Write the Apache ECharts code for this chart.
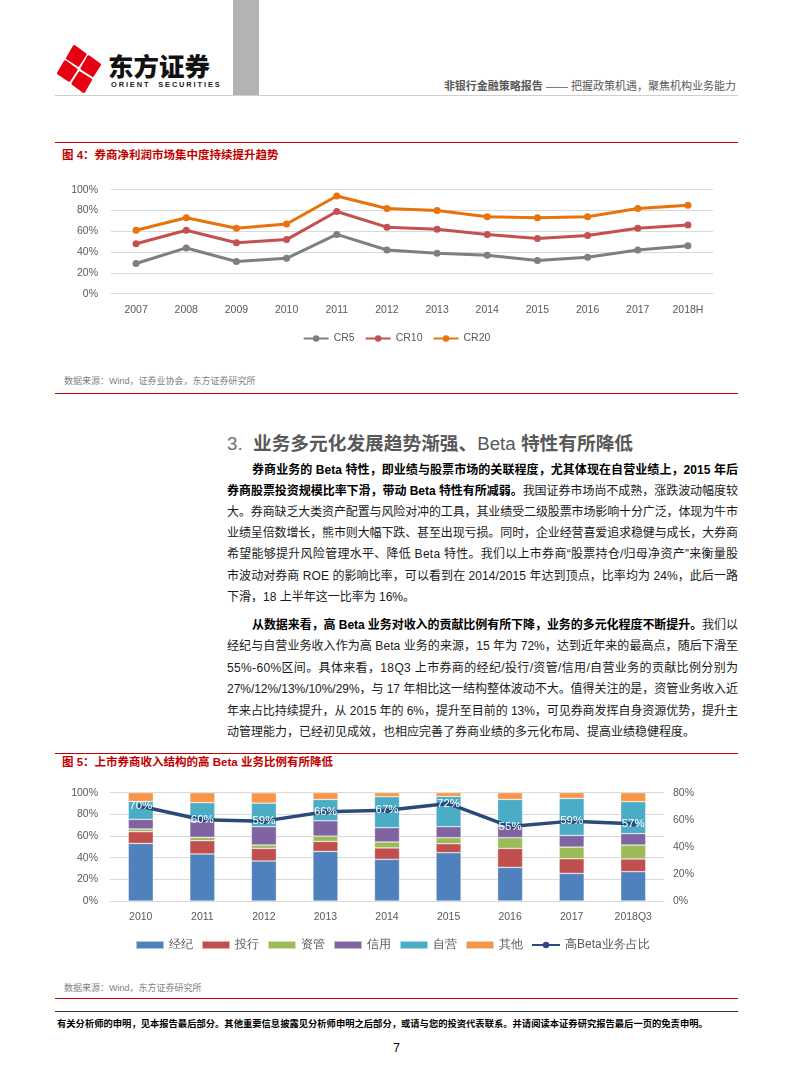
<!DOCTYPE html>
<html><head><meta charset="utf-8">
<script src="https://cdn.jsdelivr.net/npm/echarts@6/dist/echarts.min.js"></script>
<style>
html,body{margin:0;padding:0;background:#fff;}
body{width:793px;height:1077px;position:relative;overflow:hidden;font-family:"Liberation Sans","Noto Sans CJK SC",sans-serif;}
.abs{position:absolute;}
.hl{position:absolute;left:55px;width:683px;height:0;}
.ln{position:absolute;left:227px;width:511px;height:21px;line-height:21px;font-size:12px;white-space:nowrap;color:#1a1a1a;}
.ln b{color:#000;font-weight:bold;}
.ind{padding-left:25px;width:486px;}
.ttl{position:absolute;left:62px;font-size:11.5px;font-weight:bold;color:#C00000;white-space:nowrap;line-height:14px;}
.src{position:absolute;left:64px;font-size:9px;color:#7F7F7F;white-space:nowrap;line-height:12px;}
</style></head>
<body>
<!-- header -->
<svg class="abs" style="left:52px;top:42px" width="56" height="54" viewBox="0 0 56 54">
  <g fill="#E60012" stroke="#E60012" stroke-width="3" stroke-linejoin="round">
    <polygon points="27,4 36,14 27,23 18,14" transform="rotate(-12 27 27)"/>
    <polygon points="39,17 48,27 39,36 30,27" transform="rotate(-12 27 27)"/>
    <polygon points="27,31 36,40 27,50 18,40" transform="rotate(-12 27 27)"/>
    <polygon points="15,17 24,27 15,36 6,27" transform="rotate(-12 27 27)"/>
  </g>
</svg>
<div class="abs" style="left:108px;top:49px;font-size:25.5px;font-weight:900;color:#111;font-family:'Noto Sans CJK SC';line-height:32px;letter-spacing:0px;">东方证券</div>
<div class="abs" style="left:111px;top:80px;font-size:7.4px;font-weight:bold;color:#222;letter-spacing:1.9px;line-height:10px;white-space:nowrap;">ORIENT&nbsp;&nbsp;SECURITIES</div>
<div class="abs" style="left:233px;top:0;width:26px;height:95px;background:#B3B3B3;"></div>
<div class="abs" style="right:57px;top:79px;font-size:11px;color:#595959;white-space:nowrap;line-height:15px;"><b>非银行金融策略报告</b> —— 把握政策机遇，聚焦机构业务能力</div>
<div class="hl" style="top:95px;border-top:1px solid #CFCFCF;"></div>

<!-- chart 1 -->
<div class="hl" style="top:142px;border-top:1px solid #C00000;"></div>
<div class="ttl" style="top:148px;">图 4：券商净利润市场集中度持续提升趋势</div>
<div id="c1" class="abs" style="left:0;top:100px;width:793px;height:260px;"></div>
<div class="src" style="top:375px;">数据来源：Wind，证券业协会，东方证券研究所</div>
<div class="hl" style="top:393px;border-top:1px solid #C00000;"></div>

<!-- section text -->
<div class="abs" style="left:227px;top:430px;font-size:18.7px;line-height:28px;color:#595959;white-space:nowrap;font-weight:bold;"><span style="font-weight:normal;color:#6f6f6f">3.</span>&nbsp;&nbsp;业务多元化发展趋势渐强、<span style="font-weight:normal">Beta</span> 特性有所降低</div>

<div class="ln ind j" style="top:459.5px"><span><b>券商业务的 Beta 特性，即业绩与股票市场的关联程度，尤其体现在自营业绩上，2015 年后</b></span></div>
<div class="ln j" style="top:480.7px"><span><b>券商股票投资规模比率下滑，带动 Beta 特性有所减弱。</b>我国证券市场尚不成熟，涨跌波动幅度较</span></div>
<div class="ln j" style="top:501.9px"><span>大。券商缺乏大类资产配置与风险对冲的工具，其业绩受二级股票市场影响十分广泛，体现为牛市</span></div>
<div class="ln j" style="top:523.1px"><span>业绩呈倍数增长，熊市则大幅下跌、甚至出现亏损。同时，企业经营喜爱追求稳健与成长，大券商</span></div>
<div class="ln j" style="top:544.3px"><span>希望能够提升风险管理水平、降低 Beta 特性。我们以上市券商“股票持仓/归母净资产”来衡量股</span></div>
<div class="ln j" style="top:565.5px"><span>市波动对券商 ROE 的影响比率，可以看到在 2014/2015 年达到顶点，比率均为 24%，此后一路</span></div>
<div class="ln" style="top:586.7px"><span>下滑，18 上半年这一比率为 16%。</span></div>

<div class="ln ind j" style="top:614.5px"><span><b>从数据来看，高 Beta 业务对收入的贡献比例有所下降，业务的多元化程度不断提升。</b>我们以</span></div>
<div class="ln j" style="top:636px"><span>经纪与自营业务收入作为高 Beta 业务的来源，15 年为 72%，达到近年来的最高点，随后下滑至</span></div>
<div class="ln j" style="top:657.5px"><span>55%-60%区间。具体来看，18Q3 上市券商的经纪/投行/资管/信用/自营业务的贡献比例分别为</span></div>
<div class="ln j" style="top:679px"><span>27%/12%/13%/10%/29%，与 17 年相比这一结构整体波动不大。值得关注的是，资管业务收入近</span></div>
<div class="ln j" style="top:700.5px"><span>年来占比持续提升，从 2015 年的 6%，提升至目前的 13%，可见券商发挥自身资源优势，提升主</span></div>
<div class="ln" style="top:722px"><span>动管理能力，已经初见成效，也相应完善了券商业绩的多元化布局、提高业绩稳健程度。</span></div>

<!-- chart 2 -->
<div class="hl" style="top:753px;border-top:1px solid #C00000;"></div>
<div class="ttl" style="top:755px;">图 5：上市券商收入结构的高 Beta 业务比例有所降低</div>
<div id="c2" class="abs" style="left:0;top:770px;width:793px;height:195px;"></div>
<div class="src" style="top:982px;">数据来源：Wind，东方证券研究所</div>
<div class="hl" style="top:998px;border-top:1px solid #C00000;"></div>
<div class="hl" style="top:1011px;border-top:1.5px solid #333;"></div>
<div class="abs" style="left:57px;top:1018px;font-size:9.3px;font-weight:bold;color:#000;white-space:nowrap;line-height:13px;">有关分析师的申明，见本报告最后部分。其他重要信息披露见分析师申明之后部分，或请与您的投资代表联系。并请阅读本证券研究报告最后一页的免责申明。</div>
<div class="abs" style="left:0;width:793px;text-align:center;top:1040px;font-size:12px;color:#000;line-height:16px;">7</div>

<script>
// ---- data: chart 1 ----
const years1 = ['2007','2008','2009','2010','2011','2012','2013','2014','2015','2016','2017','2018H'];
const cr5  = [29,44,31,34,57,42,39,37,32,35,42,46];
const cr10 = [48,61,49,52,79,64,62,57,53,56,63,66];
const cr20 = [61,73,63,67,94,82,80,74,73,74,82,85];
// ---- data: chart 2 ----
const years2 = ['2010','2011','2012','2013','2014','2015','2016','2017','2018Q3'];
const jingji  = [53.2,43.4,36.9,45.8,38.5,44.6,31.1,25.5,27.1];
const touhang = [10.8,12.3,11.7,9.2,10.5,8.3,17.5,13.5,11.7];
const ziguan  = [2.5,3.1,3.1,4.9,5.5,5.5,9.8,10.8,12.9];
const xinyong = [8.9,14.5,16.9,14.2,13.2,10.2,10.2,10.8,10.5];
const ziying  = [16.6,17.5,21.8,19.7,28.6,28.0,25.2,34.2,29.5];
const qita    = [8.0,9.2,9.5,6.2,3.7,3.4,6.2,5.2,8.3];
const highBeta = [70,60,59,66,67,72,55,59,57];

// justify lines
document.querySelectorAll('.ln.j').forEach(el=>{
  const span = el.firstElementChild;
  const target = el.classList.contains('ind') ? 486 : 511;
  const w = span.getBoundingClientRect().width;
  const n = span.textContent.length;
  el.style.letterSpacing = ((target - w)/(n-1)) + 'px';
});

const axisFont = {color:'#595959', fontSize:10.5, fontFamily:'Liberation Sans Narrow, Liberation Sans, sans-serif'};

const c1 = echarts.init(document.getElementById('c1'));
function lineS(name, data, color){
  return {name, type:'line', data, symbol:'circle', symbolSize:7, color,
    lineStyle:{width:3, color}, itemStyle:{color}};
}
c1.setOption({
  animation:false,
  grid:{left:111, top:89.7, width:602, height:104},
  xAxis:{type:'category', data:years1, boundaryGap:true,
    axisLine:{show:true, lineStyle:{color:'#D9D9D9'}}, axisTick:{show:false},
    axisLabel:Object.assign({margin:11}, axisFont)},
  yAxis:{type:'value', min:0, max:100, interval:20,
    axisLabel:Object.assign({margin:13, formatter:'{value}%'}, axisFont),
    splitLine:{lineStyle:{color:'#D9D9D9'}}, axisLine:{show:false}, axisTick:{show:false}},
  legend:{top:228, left:'center', itemWidth:25, itemHeight:8, itemGap:10,
    textStyle:{color:'#595959', fontSize:10.5, fontFamily:'Liberation Sans Narrow, Liberation Sans, sans-serif'},
    data:['CR5','CR10','CR20']},
  series:[lineS('CR5',cr5,'#7F7F7F'), lineS('CR10',cr10,'#C55050'), lineS('CR20',cr20,'#E8730C')]
});

const c2 = echarts.init(document.getElementById('c2'));
function barS(name, data, color){
  return {name, type:'bar', stack:'s', data, barWidth:25, itemStyle:{color, borderColor:'rgba(255,255,255,0.55)', borderWidth:0.6}};
}
c2.setOption({
  animation:false,
  grid:{left:110, top:22.7, width:554, height:108.3},
  xAxis:{type:'category', data:years2,
    axisLine:{show:true, lineStyle:{color:'#D9D9D9'}}, axisTick:{show:false},
    axisLabel:Object.assign({margin:11}, axisFont)},
  yAxis:[
    {type:'value', min:0, max:100, interval:20,
     axisLabel:Object.assign({margin:12, formatter:'{value}%'}, axisFont),
     splitLine:{lineStyle:{color:'#D9D9D9'}}, axisLine:{show:false}, axisTick:{show:false}},
    {type:'value', min:0, max:80, interval:20, position:'right',
     axisLabel:Object.assign({margin:9, formatter:'{value}%'}, axisFont),
     splitLine:{show:false}, axisLine:{show:false}, axisTick:{show:false}}
  ],
  legend:{top:164, left:130, itemWidth:28, itemHeight:8, itemGap:8,
    textStyle:{color:'#595959', fontSize:12},
    data:[{name:'经纪',icon:'rect'},{name:'投行',icon:'rect'},{name:'资管',icon:'rect'},
          {name:'信用',icon:'rect'},{name:'自营',icon:'rect'},{name:'其他',icon:'rect'},
          {name:'高Beta业务占比'}]},
  series:[
    barS('经纪',jingji,'#4F81BD'),
    barS('投行',touhang,'#C0504D'),
    barS('资管',ziguan,'#9BBB59'),
    barS('信用',xinyong,'#8064A2'),
    barS('自营',ziying,'#4BACC6'),
    barS('其他',qita,'#F79646'),
    {name:'高Beta业务占比', type:'line', yAxisIndex:1, data:highBeta, z:5,
     symbol:'circle', symbolSize:6, color:'#2A4A7C',
     lineStyle:{width:3.5, color:'#2A4A7C'}, itemStyle:{color:'#2A4A7C'},
     label:{show:true, position:'inside', color:'#fff', fontSize:11.5, formatter:'{c}%'}}
  ]
});
</script>
</body></html>
